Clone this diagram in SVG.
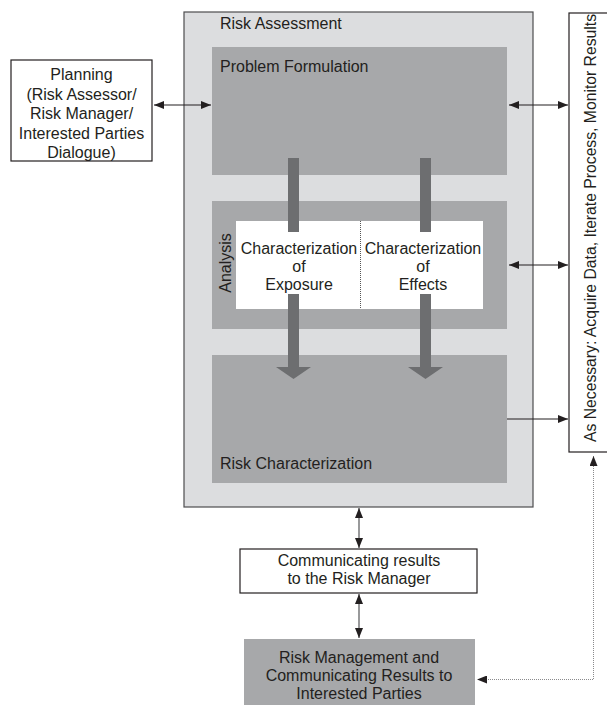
<svg xmlns="http://www.w3.org/2000/svg" width="607" height="705" viewBox="0 0 607 705">
<defs>
<style>
text{font-family:"Liberation Sans",Arial,sans-serif;font-size:16px;fill:#231f20}
.c{text-anchor:middle}
.outer{fill:#dcdddf;stroke:#4d4d4f;stroke-width:1.2}
.inner{fill:#a7a8aa}
.wbox{fill:#fff;stroke:#231f20;stroke-width:1.2}
.bar{fill:#6d6e70}
.ln{stroke:#231f20;stroke-width:1.2;fill:none}
.gl{stroke:#6d6e70;stroke-width:1.4;fill:none}
.dot{stroke:#8a8a8c;stroke-width:1;stroke-dasharray:1 1;fill:none}
</style>
<marker id="ah" markerUnits="userSpaceOnUse" markerWidth="10" markerHeight="8" refX="10" refY="4" orient="auto-start-reverse">
<path d="M0,0 L10,4 L0,8 z" fill="#231f20"/>
</marker>
</defs>

<g id="risk-assessment">
<rect class="outer" x="184" y="12" width="349" height="495"/>
<text x="220" y="29">Risk Assessment</text>
</g>

<g id="problem-formulation">
<rect class="inner" x="212" y="47" width="295" height="128"/>
<text x="220" y="72">Problem Formulation</text>
</g>

<g id="analysis">
<rect class="inner" x="212" y="201" width="295" height="128"/>
<rect x="236" y="221" width="247" height="88" fill="#fff"/>
<line x1="360.5" y1="221" x2="360.5" y2="309" stroke="#555" stroke-width="1" stroke-dasharray="1 1"/>
<text class="c" transform="translate(231,263) rotate(-90)">Analysis</text>
</g>

<g id="risk-characterization">
<rect class="inner" x="212" y="355" width="295" height="128"/>
<text x="220" y="469">Risk Characterization</text>
</g>

<g id="flow-bars">
<rect class="bar" x="288" y="158" width="11" height="74"/>
<rect class="bar" x="420" y="158" width="11" height="74"/>
<rect class="bar" x="288" y="294" width="11" height="74"/>
<path class="bar" d="M276,367 L311,367 L293.5,379 z"/>
<rect class="bar" x="420" y="294" width="11" height="74"/>
<path class="bar" d="M408,367 L443,367 L425.5,379 z"/>
</g>

<g id="char-exposure">
<text class="c" x="299" y="254">Characterization</text>
<text class="c" x="299" y="272">of</text>
<text class="c" x="299" y="290">Exposure</text>
</g>

<g id="char-effects">
<text class="c" x="423" y="254">Characterization</text>
<text class="c" x="423" y="272">of</text>
<text class="c" x="423" y="290">Effects</text>
</g>

<g id="planning">
<rect class="wbox" x="11" y="60" width="141" height="101"/>
<text class="c" x="81.5" y="80">Planning</text>
<text class="c" x="81.5" y="99.5">(Risk Assessor/</text>
<text class="c" x="81.5" y="119">Risk Manager/</text>
<text class="c" x="81.5" y="138.5">Interested Parties</text>
<text class="c" x="81.5" y="158">Dialogue)</text>
</g>

<g id="as-necessary">
<rect class="wbox" x="569" y="13" width="45" height="439"/>
<text class="c" transform="translate(596,228) rotate(-90)" textLength="428" lengthAdjust="spacingAndGlyphs">As Necessary: Acquire Data, Iterate Process, Monitor Results</text>
</g>

<g id="communicating">
<rect class="wbox" x="240" y="549" width="237" height="44"/>
<text class="c" x="359" y="566">Communicating results</text>
<text class="c" x="359" y="584">to the Risk Manager</text>
</g>

<g id="risk-management">
<rect class="inner" x="244" y="639" width="231" height="66"/>
<text class="c" x="359" y="663">Risk Management and</text>
<text class="c" x="359" y="681">Communicating Results to</text>
<text class="c" x="359" y="699">Interested Parties</text>
</g>

<g id="connectors">
<line class="ln" x1="154" y1="105" x2="211" y2="105" marker-start="url(#ah)" marker-end="url(#ah)"/>
<line class="ln" x1="509" y1="105" x2="568" y2="105" marker-start="url(#ah)" marker-end="url(#ah)"/>
<line class="ln" x1="509" y1="265" x2="568" y2="265" marker-start="url(#ah)" marker-end="url(#ah)"/>
<line class="ln" x1="507" y1="419" x2="568" y2="419" marker-end="url(#ah)"/>
<line class="gl" x1="359" y1="508" x2="359" y2="548" marker-start="url(#ah)" marker-end="url(#ah)"/>
<line class="gl" x1="359" y1="594" x2="359" y2="638" marker-start="url(#ah)" marker-end="url(#ah)"/>
<polyline class="dot" points="593.5,456 593.5,679.5 477,679.5" marker-start="url(#ah)" marker-end="url(#ah)"/>
</g>
</svg>
